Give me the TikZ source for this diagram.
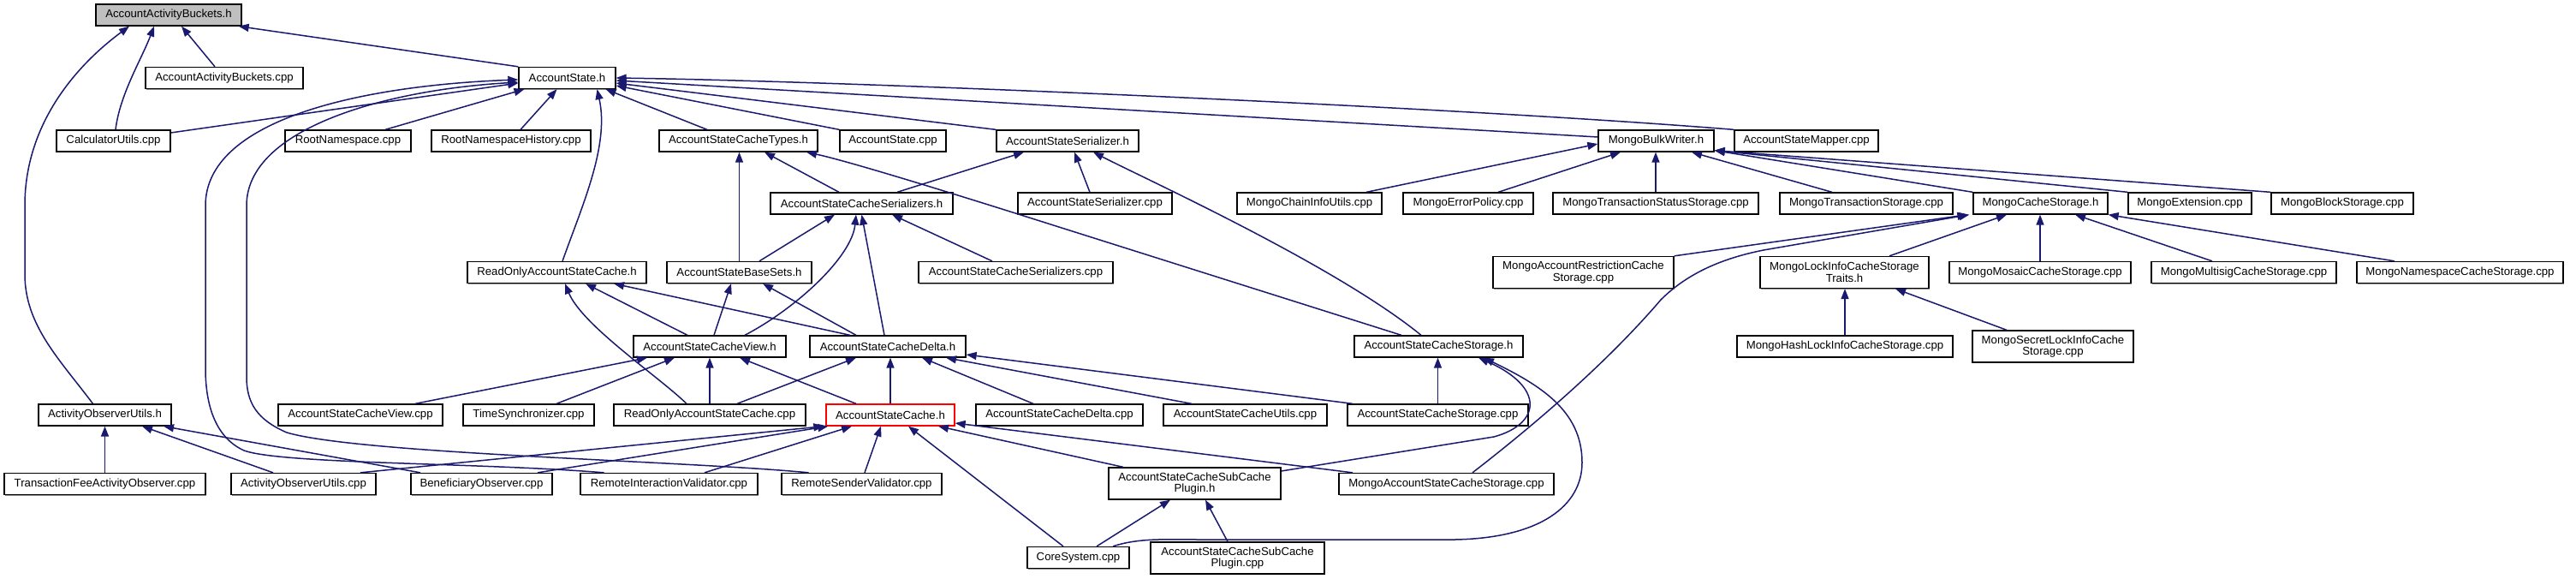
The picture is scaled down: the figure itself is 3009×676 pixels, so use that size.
\documentclass[tikz,border=0pt]{standalone}
\usepackage{fontspec}
\setmainfont{Liberation Sans}
\usetikzlibrary{arrows.meta,shadows}
\definecolor{edgeblue}{HTML}{191970}
\definecolor{nodegray}{HTML}{BFBFBF}
\begin{document}
\begin{tikzpicture}[x=1pt,y=-1pt,
  box/.style={draw=black, line width=1.3pt, fill=white, inner sep=0pt, minimum height=25pt, align=center,
    font=\fontsize{13.2}{13.6}\selectfont,
    drop shadow={shadow xshift=1.2pt, shadow yshift=-1.2pt, fill=black!45, opacity=1}},
  tall/.style={minimum height=37pt},
  edge/.style={draw=edgeblue, line width=1.5pt, -{Triangle[length=12pt,width=9pt]}},
]
\fill[white] (0,0) rectangle (3009,676);
\useasboundingbox (0,0) rectangle (3009,676);

% row 1
\node[box, minimum width=170pt, fill=nodegray] (aab) at (197,17.5) {AccountActivityBuckets.h};
% row 2
\node[box, minimum width=184pt] (aabcpp) at (262,91) {AccountActivityBuckets.cpp};
\node[box, minimum width=113pt] (as) at (662.5,91) {AccountState.h};
% row 3
\node[box, minimum width=133pt] (calc) at (132.5,164.5) {CalculatorUtils.cpp};
\node[box, minimum width=147pt] (rootns) at (406.5,164.5) {RootNamespace.cpp};
\node[box, minimum width=186pt] (rootnsh) at (597,164.5) {RootNamespaceHistory.cpp};
\node[box, minimum width=185pt] (asct) at (862.5,164.5) {AccountStateCacheTypes.h};
\node[box, minimum width=124pt] (ascpp) at (1043,164.5) {AccountState.cpp};
\node[box, minimum width=166pt] (ass) at (1247,164.5) {AccountStateSerializer.h};
\node[box, minimum width=135pt] (mbw) at (1934.5,164.5) {MongoBulkWriter.h};
\node[box, minimum width=168pt] (asmapper) at (2110,164.5) {AccountStateMapper.cpp};
% row 4
\node[box, minimum width=213pt] (ascs) at (1006.5,237.5) {AccountStateCacheSerializers.h};
\node[box, minimum width=180pt] (asscpp) at (1279,237.5) {AccountStateSerializer.cpp};
\node[box, minimum width=169pt] (mciu) at (1529.5,237.5) {MongoChainInfoUtils.cpp};
\node[box, minimum width=152pt] (mep) at (1715,237.5) {MongoErrorPolicy.cpp};
\node[box, minimum width=240pt] (mtss) at (1934,237.5) {MongoTransactionStatusStorage.cpp};
\node[box, minimum width=202pt] (mts) at (2180,237.5) {MongoTransactionStorage.cpp};
\node[box, minimum width=157pt] (mcs) at (2383.5,237.5) {MongoCacheStorage.h};
\node[box, minimum width=144pt] (mext) at (2558,237.5) {MongoExtension.cpp};
\node[box, minimum width=166pt] (mbs) at (2736,237.5) {MongoBlockStorage.cpp};
% row 5
\node[box, minimum width=209pt] (roasc) at (650.5,318) {ReadOnlyAccountStateCache.h};
\node[box, minimum width=169pt] (asbs) at (863.5,318) {AccountStateBaseSets.h};
\node[box, minimum width=227pt] (ascscpp) at (1186.5,318) {AccountStateCacheSerializers.cpp};
\node[box, tall, minimum width=211pt] (marcs) at (1849.5,318) {MongoAccountRestrictionCache\\Storage.cpp};
\node[box, tall, minimum width=197pt] (mlicst) at (2154.5,318) {MongoLockInfoCacheStorage\\Traits.h};
\node[box, minimum width=212pt] (mmcs) at (2383,318) {MongoMosaicCacheStorage.cpp};
\node[box, minimum width=216pt] (mmscs) at (2621,318) {MongoMultisigCacheStorage.cpp};
\node[box, minimum width=241pt] (mnscs) at (2873.5,318) {MongoNamespaceCacheStorage.cpp};
% row 6
\node[box, minimum width=178pt] (ascv) at (829,404.5) {AccountStateCacheView.h};
\node[box, minimum width=182pt] (ascd) at (1037,404.5) {AccountStateCacheDelta.h};
\node[box, minimum width=197pt] (ascst) at (1680.5,404.5) {AccountStateCacheStorage.h};
\node[box, minimum width=252pt] (mhlics) at (2155,404.5) {MongoHashLockInfoCacheStorage.cpp};
\node[box, tall, minimum width=188pt] (mslics) at (2398,404.5) {MongoSecretLockInfoCache\\Storage.cpp};
% row 7
\node[box, minimum width=155pt] (aouh) at (122.5,484.5) {ActivityObserverUtils.h};
\node[box, minimum width=192pt] (ascvcpp) at (421,484.5) {AccountStateCacheView.cpp};
\node[box, minimum width=153pt] (timesync) at (617.5,484.5) {TimeSynchronizer.cpp};
\node[box, minimum width=224pt] (roasccpp) at (829,484.5) {ReadOnlyAccountStateCache.cpp};
\node[box, draw=red, minimum width=150pt] (asc) at (1040,484.5) {AccountStateCache.h};
\node[box, minimum width=195pt] (ascdcpp) at (1237.5,484.5) {AccountStateCacheDelta.cpp};
\node[box, minimum width=191pt] (ascucpp) at (1454.5,484.5) {AccountStateCacheUtils.cpp};
\node[box, minimum width=211pt] (ascstcpp) at (1679.5,484.5) {AccountStateCacheStorage.cpp};
% row 8
\node[box, minimum width=235pt] (tfao) at (122.5,565) {TransactionFeeActivityObserver.cpp};
\node[box, minimum width=169pt] (aoucpp) at (354.5,565) {ActivityObserverUtils.cpp};
\node[box, minimum width=165pt] (benef) at (562.5,565) {BeneficiaryObserver.cpp};
\node[box, minimum width=207pt] (riv) at (781.5,565) {RemoteInteractionValidator.cpp};
\node[box, minimum width=187pt] (rsv) at (1006.5,565) {RemoteSenderValidator.cpp};
\node[box, tall, minimum width=201pt] (ascscph) at (1395.5,564.5) {AccountStateCacheSubCache\\Plugin.h};
\node[box, minimum width=251pt] (mascs) at (1689.5,565) {MongoAccountStateCacheStorage.cpp};
% row 9
\node[box, minimum width=119pt] (core) at (1259.5,651) {CoreSystem.cpp};
\node[box, tall, minimum width=203pt] (ascscpcpp) at (1445.5,651.5) {AccountStateCacheSubCache\\Plugin.cpp};

% ---- edges into AccountActivityBuckets.h
\draw[edge] ([xshift=-14pt]aouh.north) .. controls (70,420) and (29,380) .. (29,320) -- (29,240) .. controls (29,140) and (95,72) .. ([xshift=-46pt]aab.south);
\draw[edge] ([xshift=2.5pt]calc.north) .. controls (140,110) and (165,70) .. ([xshift=-17pt]aab.south);
\draw[edge] ([xshift=-11pt]aabcpp.north) -- ([xshift=15pt]aab.south);
\draw[edge] (as.north west) -- ([xshift=-4pt]aab.south east);
% ---- edges into AccountState.h
\draw[edge] ([yshift=9.5pt]calc.east) -- ([yshift=-6pt]as.west);
\draw[edge] ([xshift=-76pt]riv.north) .. controls (560,540) and (330,542) .. (285,526) .. controls (250,510) and (240,470) .. (240,430) -- (240,240) .. controls (240,140) and (420,100) .. ([yshift=-2pt]as.west);
\draw[edge] ([xshift=-62pt]rsv.north) .. controls (800,538) and (420,530) .. (335,505) .. controls (300,490) and (288,470) .. (288,440) -- (288,240) .. controls (288,150) and (450,105) .. ([yshift=-5pt]as.west);
\draw[edge] ([xshift=43.5pt]rootns.north) -- ([xshift=-50pt]as.south);
\draw[edge] ([xshift=11pt]rootnsh.north) -- ([xshift=-12pt]as.south);
\draw[edge] ([xshift=6.5pt]roasc.north) .. controls (680,240) and (712,170) .. ([xshift=35pt]as.south);
\draw[edge] ([xshift=-36.5pt]asct.north) -- ([xshift=45pt]as.south);
\draw[edge] (ascpp.north west) -- ([yshift=-9pt]as.east);
\draw[edge] (ass.north west) -- ([yshift=-6pt]as.east);
\draw[edge] ([yshift=4.5pt]mbw.west) -- ([yshift=-3pt]as.east);
\draw[edge] (asmapper.north west) .. controls (1700,125) and (1000,95) .. (as.east);
% ---- edges into MongoBulkWriter.h
\draw[edge] ([xshift=66.5pt]mciu.north) -- ([yshift=-3.5pt]mbw.west);
\draw[edge] ([xshift=35pt]mep.north) -- ([xshift=-41.5pt]mbw.south);
\draw[edge] (mtss.north) -- (mtss.north |- mbw.south);
\draw[edge] ([xshift=-40pt]mts.north) -- ([xshift=41.5pt]mbw.south);
\draw[edge] (mcs.north west) -- ([yshift=2pt]mbw.south east);
\draw[edge] (mext.north west) -- ([yshift=2pt]mbw.south east);
\draw[edge] (mbs.north west) -- ([yshift=2pt]mbw.south east);
% ---- edges into AccountStateCacheTypes.h
\draw[edge] (asbs.north) -- (asbs.north |- asct.south);
\draw[edge] ([xshift=-26.5pt]ascs.north) -- ([xshift=30.5pt]asct.south);
\draw[edge] ([xshift=-43.5pt]ascst.north) -- (1240,266) .. controls (1180,247) and (1000,190) .. ([xshift=79.5pt]asct.south);
% ---- edges into AccountStateSerializer.h
\draw[edge] ([xshift=41.5pt]ascs.north) -- ([xshift=-51pt]ass.south);
\draw[edge] ([xshift=-6pt]asscpp.north) -- ([xshift=8pt]ass.south);
\draw[edge] ([xshift=-20.5pt]ascst.north) .. controls (1560,310) and (1340,210) .. ([xshift=30pt]ass.south);
% ---- edges into AccountStateCacheSerializers.h
\draw[edge] ([xshift=23.5pt]asbs.north) -- ([xshift=-31.5pt]ascs.south);
\draw[edge] ([xshift=41pt]ascv.north) .. controls (930,360) and (995,300) .. ([xshift=-6.5pt]ascs.south);
\draw[edge] ([xshift=-4pt]ascd.north) -- (ascs.south);
\draw[edge] ([xshift=-27.5pt]ascscpp.north) -- ([xshift=35.5pt]ascs.south);
% ---- edges into AccountStateBaseSets.h
\draw[edge] ([xshift=5pt]ascv.north) -- ([xshift=-9.5pt]asbs.south);
\draw[edge] ([xshift=-37pt]ascd.north) -- ([xshift=27.5pt]asbs.south);
% ---- edges into ReadOnlyAccountStateCache.h
\draw[edge] ([xshift=-27pt]roasccpp.north) .. controls (770,440) and (680,380) .. ([xshift=9.5pt]roasc.south);
\draw[edge] ([xshift=-26pt]ascv.north) -- ([xshift=33.5pt]roasc.south);
\draw[edge] ([xshift=-44pt]ascd.north) -- ([xshift=66.5pt]roasc.south);
% ---- edges into AccountStateCacheView.h
\draw[edge] ([xshift=64pt]ascvcpp.north) -- ([xshift=-73pt]ascv.south);
\draw[edge] ([xshift=32.5pt]timesync.north) -- ([xshift=-41pt]ascv.south);
\draw[edge] (roasccpp.north) -- (ascv.south);
\draw[edge] ([xshift=-40pt]asc.north) -- ([xshift=35pt]ascv.south);
% ---- edges into AccountStateCacheDelta.h
\draw[edge] ([xshift=32pt]roasccpp.north) -- ([xshift=-37pt]ascd.south);
\draw[edge] (asc.north) -- (asc.north |- ascd.south);
\draw[edge] ([xshift=-30.5pt]ascdcpp.north) -- ([xshift=40pt]ascd.south);
\draw[edge] ([xshift=-62.5pt]ascucpp.north) -- ([xshift=68pt]ascd.south);
\draw[edge] ([xshift=-99.5pt]ascstcpp.north) -- ([yshift=-9.5pt]ascd.east);
% ---- edges into AccountStateCacheStorage.h
\draw[edge] (ascstcpp.north) -- (ascstcpp.north |- ascst.south);
\draw[edge] ([yshift=14.5pt]ascscph.east) -- (1745,510) .. controls (1800,495) and (1805,452) .. ([xshift=46.5pt]ascst.south);
\draw[edge] ([xshift=40.5pt]core.north) .. controls (1330,628) and (1360,630) .. (1400,630) -- (1700,630) .. controls (1800,628) and (1848,590) .. (1848,540) .. controls (1848,480) and (1800,450) .. ([xshift=52.5pt]ascst.south);
% ---- edges into AccountStateCache.h
\draw[edge] ([xshift=66.5pt]aoucpp.north) -- ([xshift=-2pt]asc.south west);
\draw[edge] ([xshift=65.5pt]benef.north) -- ([xshift=3pt]asc.south west);
\draw[edge] ([xshift=41.5pt]riv.north) -- ([xshift=-45pt]asc.south);
\draw[edge] ([xshift=3.5pt]rsv.north) -- ([xshift=-11pt]asc.south);
\draw[edge] ([xshift=-17.5pt]core.north) -- ([xshift=21pt]asc.south);
\draw[edge] ([xshift=-83.5pt]ascscph.north) -- ([xshift=56pt]asc.south);
\draw[edge] ([xshift=-109.5pt]mascs.north) -- ([yshift=-9.5pt]asc.east);
% ---- edges into ActivityObserverUtils.h
\draw[edge] (tfao.north) -- (tfao.north |- aouh.south);
\draw[edge] ([xshift=-35.5pt]aoucpp.north) -- ([xshift=43.5pt]aouh.south);
\draw[edge] ([xshift=-71.5pt]benef.north) -- ([xshift=68.5pt]aouh.south);
% ---- edges into AccountStateCacheSubCachePlugin.h
\draw[edge] ([xshift=21.5pt]core.north) -- ([xshift=-28.5pt]ascscph.south);
\draw[edge] ([xshift=-11.5pt]ascscpcpp.north) -- ([xshift=12.5pt]ascscph.south);
% ---- edges into MongoCacheStorage.h
\draw[edge] (marcs.north east) -- ([xshift=-6pt]mcs.south west);
\draw[edge] ([xshift=30.5pt]mascs.north) .. controls (1800,490) and (1880,420) .. (1940,350) .. controls (1975,315) and (2020,300) .. (2060,292) -- ([xshift=-4pt]mcs.south west);
\draw[edge] ([xshift=52.5pt]mlicst.north) -- ([xshift=-39.5pt]mcs.south);
\draw[edge] (mmcs.north) -- (mmcs.north |- mcs.south);
\draw[edge] ([xshift=-37pt]mmscs.north) -- ([xshift=40.5pt]mcs.south);
\draw[edge] ([xshift=-76.5pt]mnscs.north) -- (mcs.south east);
% ---- edges into MongoLockInfoCacheStorageTraits.h
\draw[edge] (mhlics.north) -- (mhlics.north |- mlicst.south);
\draw[edge] ([xshift=-54pt]mslics.north) -- ([xshift=59.5pt]mlicst.south);
\end{tikzpicture}
\end{document}
